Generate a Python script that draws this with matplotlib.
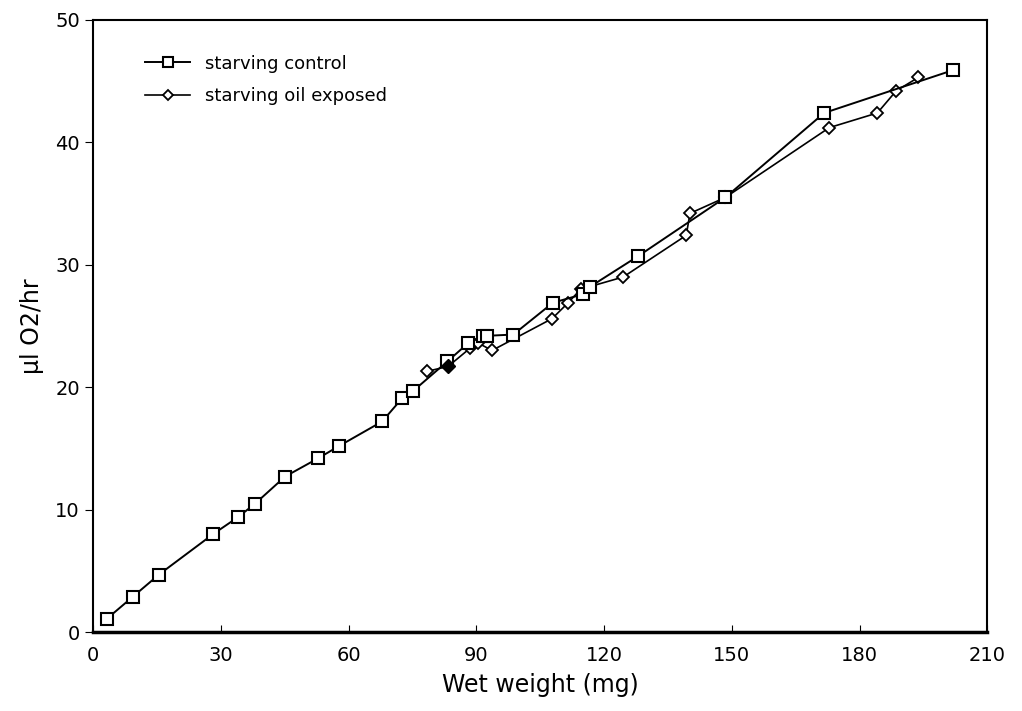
import numpy as np
import matplotlib.pyplot as plt

# Daten
x_control = [3.3, 9.4, 15.5, 28.2, 34.1, 38.1, 45.1, 52.9, 57.8, 67.9, 72.6, 75.2,
             83.2, 88.1, 91.5, 92.6, 98.7, 108.0, 115.1, 116.7, 128.0, 148.5, 171.7,
             202.0]
y_control = [1.1, 2.9, 4.7, 8.0, 9.4, 10.5, 12.7, 14.2, 15.2, 17.2, 19.1, 19.7,
             22.1, 23.6, 24.2, 24.2, 24.3, 26.9, 27.6, 28.2, 30.7, 35.5, 42.4,
             45.9]

x_oil = [78.5, 83.4, 88.6, 90.5, 93.7, 107.8, 111.6, 114.5, 124.5, 139.3, 140.2,
         148.5, 172.9, 184.2, 188.6, 193.8]
y_oil = [21.3, 21.7, 23.2, 23.6, 23.0, 25.6, 26.9, 28.0, 29.0, 32.4, 34.2,
         35.5, 41.2, 42.4, 44.2, 45.3]
filled_oil = 1  # dieser Punkt ist im Original ausgefuellt

x_ticks = [0, 30, 60, 90, 120, 150, 180, 210]
y_ticks = [0, 10, 20, 30, 40, 50]

fig = plt.figure(figsize=(10.22, 7.11), dpi=100)
ax = fig.add_axes([0.091, 0.111, 0.875, 0.861])

ax.plot(x_control, y_control, color='black', linewidth=1.4, marker='s', markersize=8.5,
        markerfacecolor='white', markeredgecolor='black', markeredgewidth=1.5,
        label='starving control', zorder=3)
ax.plot(x_oil, y_oil, color='black', linewidth=1.2, marker='D', markersize=6,
        markerfacecolor='white', markeredgecolor='black', markeredgewidth=1.3,
        label='starving oil exposed', zorder=2)
ax.plot(x_oil[filled_oil], y_oil[filled_oil], linestyle='', marker='D', markersize=7,
        color='black', zorder=4)

ax.set_xlim(0, 210)
ax.set_ylim(0, 50)
ax.set_xticks(x_ticks)
ax.set_yticks(y_ticks)
ax.tick_params(axis='x', direction='in', length=5, labelsize=14, pad=10)
ax.tick_params(axis='y', direction='out', length=6, labelsize=14)
for s in ax.spines.values():
    s.set_linewidth(1.5)
ax.spines['bottom'].set_linewidth(2.5)

ax.set_xlabel('Wet weight (mg)', fontsize=17, labelpad=6)
ax.set_ylabel('µl O2/hr', fontsize=17, labelpad=8)

ax.legend(loc='upper left', bbox_to_anchor=(0.04, 0.97), frameon=False, fontsize=13,
          handlelength=2.5, labelspacing=0.8, markerscale=0.8)

plt.savefig('out.png', dpi=100)
